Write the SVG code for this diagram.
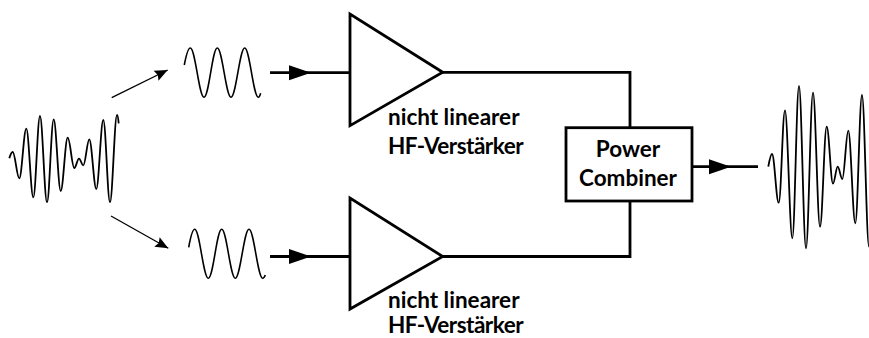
<svg xmlns="http://www.w3.org/2000/svg" width="869" height="338" viewBox="0 0 869 338">
<style>
.w{fill:none;stroke:#000;stroke-width:1.8;stroke-linejoin:round}
.s{stroke-width:1.6}
.n{fill:#fff;stroke:#000;stroke-width:2.8;stroke-linejoin:miter}
.c{fill:none;stroke:#000;stroke-width:2.8}
.t{fill:none;stroke:#000;stroke-width:1.3}
text{font-family:Lato,"Noto Sans","Liberation Sans",sans-serif;font-size:22.5px;font-weight:700;fill:#000}
.h{letter-spacing:-0.5px}
</style>
<defs>
<marker id="big" markerUnits="userSpaceOnUse" markerWidth="24" markerHeight="16" refX="22" refY="8" orient="auto"><path d="M0 0.5L22 8L0 15.5Z" fill="#000"/></marker>
<marker id="small" markerUnits="userSpaceOnUse" markerWidth="14" markerHeight="12" refX="13" refY="6" orient="auto"><path d="M0 0.5L13 6L0 11.5L2 6Z" fill="#000"/></marker>
</defs>
<g id="connectors">
<path class="t" d="M111.7 97.7L167.7 70" marker-end="url(#small)"/>
<path class="t" d="M111 216L168.3 248.3" marker-end="url(#small)"/>
<polyline class="c" points="270,72.7 311,72.7 350,72.7" marker-mid="url(#big)"/>
<polyline class="c" points="270,256.5 311,256.5 350,256.5" marker-mid="url(#big)"/>
<path class="c" d="M442 72.3H630V128"/>
<path class="c" d="M442 256.5H630V201"/>
<polyline class="c" points="690,166.7 731,166.7 758,166.7" marker-mid="url(#big)"/>
</g>
<g id="input-wave"><path class="w" d="M9.3 158.3C10.3 155 11.3 152 12.7 152C15.2 152 16.8 178.3 19.3 178.3C21.8 178.3 23.8 128.7 26.3 128.7C28.8 128.7 30.8 197.3 33.3 197.3C35.8 197.3 37.5 116 40 116C42.5 116 44.5 202.3 47 202.3C49.5 202.3 51.2 119.3 53.7 119.3C56.2 119.3 58.2 191 60.7 191C63.2 191 65.2 137.7 67.7 137.7C70.2 137.7 71.9 168 74.3 168C76 168 77.3 158.7 79 158.7C80.6 158.7 81.7 165.3 83.3 165.3C85.5 165.3 87.1 139.3 89.3 139.3C91.8 139.3 93.8 189 96.3 189C98.8 189 100.8 120 103.3 120C105.8 120 107.5 202.3 110 202.3C112.5 202.3 114.5 115 117 115C117.8 115 118.3 119 118.7 123.3"/></g>
<g id="wave-top"><path class="w s" d="M184.3 65C186 56 188 48 190.3 48C195.3 48 199 97.3 204 97.3C209 97.3 212.3 48 217.3 48C222.3 48 226 97.3 231 97.3C236 97.3 239.7 48 244.7 48C249.7 48 253.3 97.3 258.3 97.3C259.3 97.3 260 95.5 260.7 93.3"/></g>
<g id="wave-bottom"><path class="w s" d="M188.7 247.3C190.4 238 192.4 229.3 194.7 229.3C199.7 229.3 203.3 278.3 208.3 278.3C213.3 278.3 216.7 229.3 221.7 229.3C226.7 229.3 230.3 278.3 235.3 278.3C240.3 278.3 244 229.3 249 229.3C254 229.3 257.7 278.3 262.7 278.3C263.7 278.3 264.6 276.8 265.3 275"/></g>
<g id="output-wave"><path class="w" d="M768.3 166.7C769.5 160 770.6 154 772 154C774.5 154 776.2 202.7 778.7 202.7C781.2 202.7 782.5 110.3 785 110.3C787.5 110.3 789.8 238.3 792.3 238.3C794.8 238.3 796.5 86 799 86C801.5 86 803.5 248.3 806 248.3C808.5 248.3 810.5 92.7 813 92.7C815.5 92.7 817.5 226.7 820 226.7C822.5 226.7 824.2 126.7 826.7 126.7C829 126.7 830.7 183.7 833 183.7C834.7 183.7 836 166.7 837.7 166.7C839.4 166.7 840.6 179 842.3 179C844.5 179 846.1 130.7 848.3 130.7C850.8 130.7 852.8 223.3 855.3 223.3C857.8 223.3 859.5 95 862 95C864.5 95 866.5 246.7 869 246.7"/></g>
<g id="amp-top"><path class="n" d="M350 14V125.7L442.7 72.3Z"/><text x="388" y="125">nicht linearer</text><text class="h" x="388" y="154">HF-Verstärker</text></g>
<g id="amp-bottom"><path class="n" d="M350 198V309L442.7 256.5Z"/><text x="388" y="308">nicht linearer</text><text class="h" x="388" y="333">HF-Verstärker</text></g>
<g id="combiner"><rect class="n" x="566" y="127.7" width="126" height="73.3"/><text x="628" y="157" text-anchor="middle">Power</text><text x="628" y="186" text-anchor="middle">Combiner</text></g>
</svg>
